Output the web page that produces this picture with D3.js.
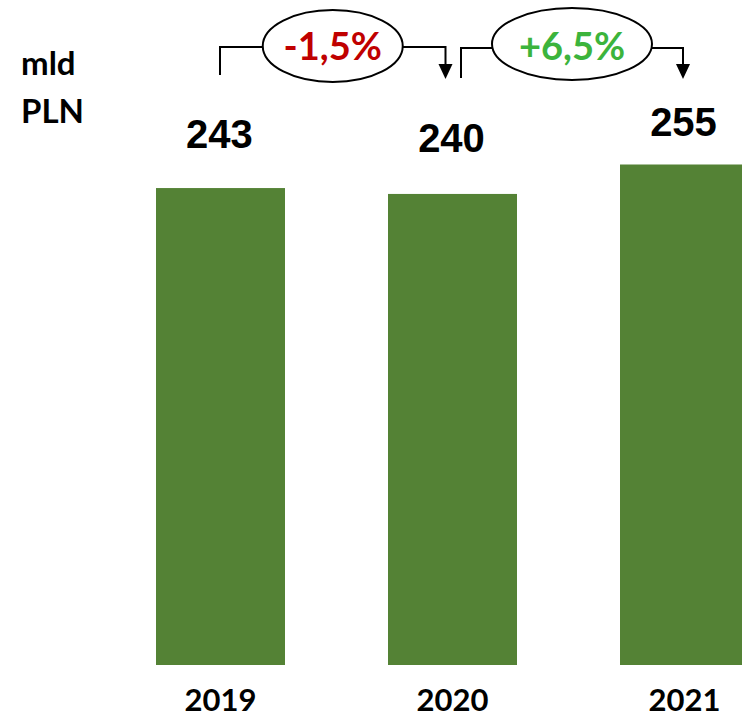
<!DOCTYPE html>
<meta charset="utf-8">
<style>
    body { margin: 0; background: #fff; }
    svg { display: block; }
</style>
<body>
<script src="https://cdn.jsdelivr.net/npm/d3@7"></script>
<script>

var years = ["2019", "2020", "2021"];
var values = [243, 240, 255];
var changes = ["-1,5%", "+6,5%"];
var changeColors = ["#c00000", "#3cb43c"];
var unitLines = ["mld", "PLN"];

var width = 742, height = 718;

var svg = d3.select("body").append("svg")
    .attr("width", width)
    .attr("height", height);

// bars: step 232px, width 129px
var x = d3.scaleBand()
    .domain(years)
    .range([156, 749])
    .paddingInner(0.444)
    .paddingOuter(0);

var y = d3.scaleLinear()
    .domain([0, 255])
    .range([665, 164.5]);

var data = years.map(function(d, i) { return {year: d, value: values[i]}; });

svg.selectAll("rect.bar")
    .data(data)
  .enter().append("rect")
    .attr("class", "bar")
    .attr("x", function(d) { return x(d.year); })
    .attr("y", function(d) { return y(d.value); })
    .attr("width", x.bandwidth())
    .attr("height", function(d) { return y(0) - y(d.value); })
    .style("fill", "#548235");

// value labels above bars
var labelGap = [40, 42, 29];
svg.selectAll("text.value")
    .data(data)
  .enter().append("text")
    .attr("class", "value")
    .attr("x", function(d) { return x(d.year) + x.bandwidth() / 2 - 1; })
    .attr("y", function(d, i) { return y(d.value) - labelGap[i]; })
    .attr("text-anchor", "middle")
    .style("font-family", "'Liberation Sans', Arial, sans-serif")
    .style("font-weight", "bold")
    .style("font-size", "40px")
    .text(function(d) { return d.value; });

// year labels
svg.selectAll("text.year")
    .data(data)
  .enter().append("text")
    .attr("class", "year")
    .attr("x", function(d) { return x(d.year) + x.bandwidth() / 2; })
    .attr("y", 711)
    .attr("text-anchor", "middle")
    .style("font-family", "Lato, 'Open Sans', sans-serif")
    .style("font-weight", "bold")
    .style("font-size", "31px")
    .text(function(d) { return d.year; });

// unit
svg.selectAll("text.unit")
    .data(unitLines)
  .enter().append("text")
    .attr("class", "unit")
    .attr("x", 21)
    .attr("y", function(d, i) { return 75 + i * 48; })
    .style("font-family", "Lato, 'Open Sans', sans-serif")
    .style("font-weight", "bold")
    .style("font-size", "33px")
    .text(function(d) { return d; });

// change brackets between bars
var cx = function(i) { return x(years[i]) + x.bandwidth() / 2; };
var brackets = changes.map(function(c, i) {
    var x0 = cx(i) + (i === 0 ? -0.5 : 8.5);
    var x1 = cx(i + 1) - (i === 0 ? 7 : 1.5);
    return {label: c, color: changeColors[i], x0: x0, x1: x1,
            top: 47 + i, bottom: 75 + i * 3, tip: 79, rx: 70 + i * 10};
});

var g = svg.selectAll("g.bracket")
    .data(brackets)
  .enter().append("g")
    .attr("class", "bracket");

g.append("path")
    .attr("d", function(d) {
        return "M" + d.x0 + "," + d.bottom + "V" + d.top + "H" + d.x1 + "V" + (d.tip - 14);
    })
    .style("fill", "none")
    .style("stroke", "#000")
    .style("stroke-width", 2);

g.append("path")
    .attr("d", function(d) {
        return "M" + (d.x1 - 7) + "," + (d.tip - 15) + "L" + (d.x1 + 7) + "," + (d.tip - 15) + "L" + d.x1 + "," + d.tip + "Z";
    })
    .style("fill", "#000");

g.append("ellipse")
    .attr("cx", function(d) { return (d.x0 + d.x1) / 2; })
    .attr("cy", function(d, i) { return 46 - i * 2; })
    .attr("rx", function(d) { return d.rx; })
    .attr("ry", 36)
    .style("fill", "#fff")
    .style("stroke", "#000")
    .style("stroke-width", 2);

g.append("text")
    .attr("x", function(d) { return (d.x0 + d.x1) / 2; })
    .attr("y", 60)
    .attr("text-anchor", "middle")
    .style("font-family", "Lato, 'Open Sans', sans-serif")
    .style("font-weight", "bold")
    .style("font-size", "38px")
    .style("fill", function(d) { return d.color; })
    .text(function(d) { return d.label; });

</script>
</body>
